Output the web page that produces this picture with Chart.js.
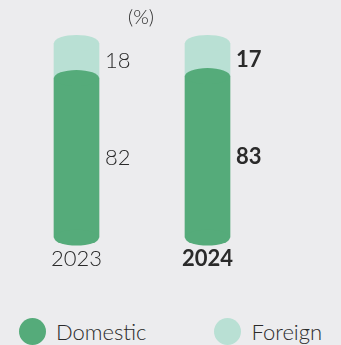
<!DOCTYPE html>
<html>
<head>
<meta charset="utf-8">
<script src="https://cdn.jsdelivr.net/npm/chart.js@4.4.1/dist/chart.umd.min.js"></script>
<style>
    html, body { margin: 0; padding: 0; background: #ececee; }
    #wrap { position: relative; width: 341px; height: 345px; overflow: hidden; }
    #chartBox { position: absolute; left: 0; top: 0; width: 341px; height: 300px; }
    #legend {
        position: absolute; left: 0; top: 318px; width: 341px; height: 26px;
        display: flex; justify-content: center; align-items: center; gap: 68px;
        font-family: 'Lato', sans-serif; font-weight: 300; font-size: 22px; color: #2a2a2a;
    }
    #legend .item { display: flex; align-items: center; }
    #legend .dot { width: 27px; height: 27px; border-radius: 50%; margin-right: 10px; }
</style>
</head>
<body>
<div id="wrap">
    <div id="chartBox"><canvas id="mixChart"></canvas></div>
    <div id="legend"></div>
</div>
<script>
// Share split per year (%)
const years = ['2023', '2024'];
const domestic = [82, 83];
const foreign = [18, 17];
const boldYear = [false, true];

const seriesNames = ['Domestic', 'Foreign'];
const seriesColors = ['#55ab7a', '#b9e0d4'];

const FONT = "'Lato', sans-serif";
const TEXT = '#2a2a2a';

// Rounded caps so each bar reads as a cylinder
const cylinderCaps = {
    id: 'cylinderCaps',
    afterDatasetDraw(chart, args) {
        const ctx = chart.ctx;
        const color = chart.data.datasets[args.index].backgroundColor;
        ctx.save();
        ctx.fillStyle = color;
        args.meta.data.forEach(bar => {
            const rx = bar.width / 2;
            const ry = 8;
            ctx.beginPath();
            ctx.ellipse(bar.x, bar.y, rx, ry, 0, 0, Math.PI * 2);
            ctx.fill();
            if (args.index === 0) {
                ctx.beginPath();
                ctx.ellipse(bar.x, bar.base, rx, ry, 0, 0, Math.PI * 2);
                ctx.fill();
            }
        });
        ctx.restore();
    }
};

// Values beside each segment, plus the unit note
const valueLabels = {
    id: 'valueLabels',
    afterDraw(chart) {
        const ctx = chart.ctx;
        ctx.save();
        ctx.fillStyle = TEXT;
        ctx.textBaseline = 'middle';
        ctx.textAlign = 'left';
        chart.data.datasets.forEach((ds, di) => {
            chart.getDatasetMeta(di).data.forEach((bar, i) => {
                ctx.font = (boldYear[i] ? 'bold ' : '300 ') + '22px ' + FONT;
                const mid = (bar.y + bar.base) / 2;
                ctx.fillText(String(ds.data[i]), bar.x + bar.width / 2 + 6, mid);
            });
        });
        ctx.font = '300 20px ' + FONT;
        ctx.textAlign = 'center';
        ctx.fillText('(%)', 141, 18);
        ctx.restore();
    }
};

new Chart(document.getElementById('mixChart'), {
    type: 'bar',
    data: {
        labels: years,
        datasets: [
            { label: seriesNames[0], data: domestic, backgroundColor: seriesColors[0] },
            { label: seriesNames[1], data: foreign, backgroundColor: seriesColors[1] }
        ]
    },
    options: {
        responsive: true,
        maintainAspectRatio: false,
        animation: false,
        layout: { padding: { top: 43, left: 11, right: 68, bottom: 20 } },
        datasets: { bar: { barThickness: 45, borderWidth: 0 } },
        scales: {
            x: {
                stacked: true,
                grid: { display: false, drawTicks: false },
                border: { display: false },
                ticks: {
                    padding: 8,
                    color: TEXT,
                    font: ctx => ({ family: FONT, size: 22, weight: boldYear[ctx.index] ? 'bold' : '300' })
                }
            },
            y: {
                stacked: true,
                display: false,
                min: 0,
                max: 100
            }
        },
        plugins: {
            legend: { display: false },
            tooltip: { enabled: false }
        }
    },
    plugins: [cylinderCaps, valueLabels]
});

// Legend
const legend = document.getElementById('legend');
seriesNames.forEach((name, i) => {
    const item = document.createElement('div');
    item.className = 'item';
    item.innerHTML = '<span class="dot" style="background:' + seriesColors[i] + '"></span><span>' + name + '</span>';
    legend.appendChild(item);
});
</script>
</body>
</html>
